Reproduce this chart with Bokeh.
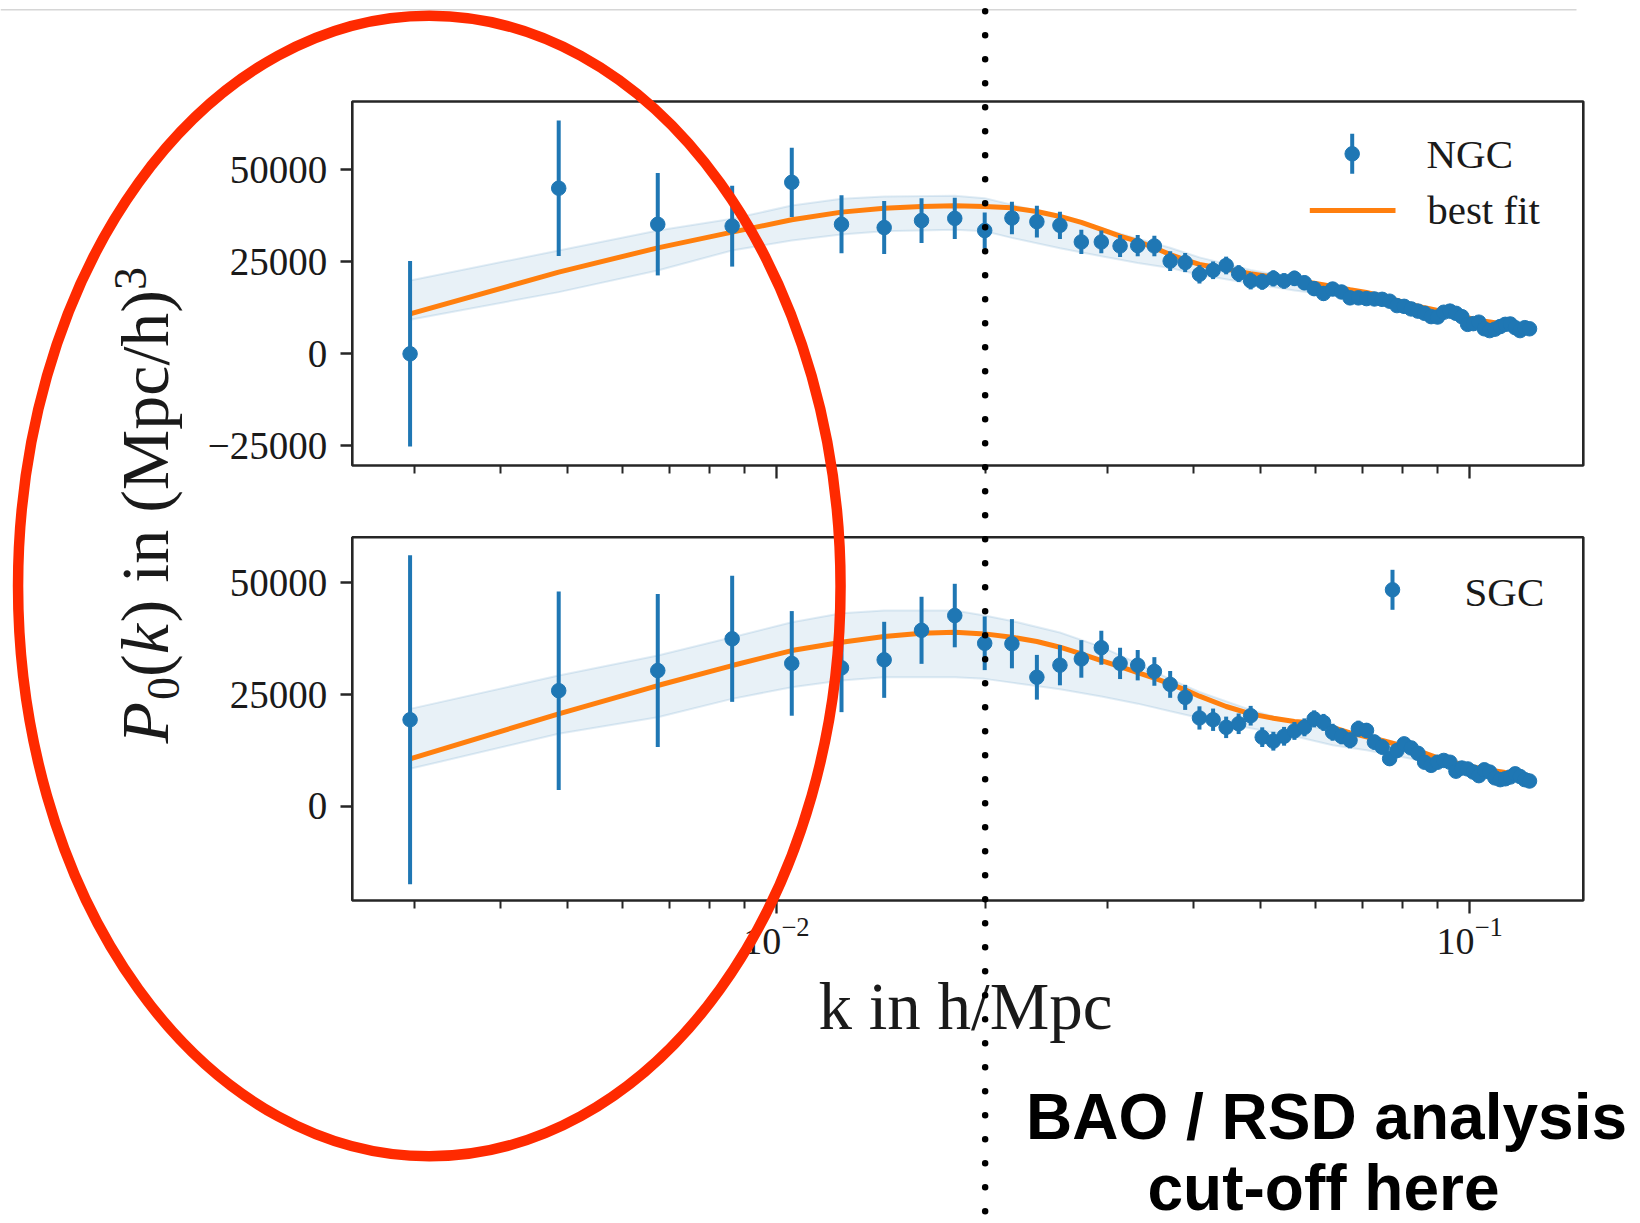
import numpy as np
from bokeh.plotting import figure
from bokeh.models import (Range1d, LogScale, LinearAxis, LogAxis, FixedTicker, Label,
                          CustomJSTickFormatter)
from bokeh.embed import file_html
from bokeh.resources import INLINE

# ---------------- data ----------------
K = [0.00296, 0.00485, 0.00674, 0.00863, 0.01052, 0.01241, 0.01430, 0.01619, 0.01808, 0.01997,
     0.02186, 0.02375, 0.02564, 0.02753, 0.02942, 0.03131, 0.03320, 0.03509, 0.03698, 0.03887,
     0.04076, 0.04265, 0.04454, 0.04643, 0.04832, 0.05021, 0.05210, 0.05399, 0.05588, 0.05777,
     0.05966, 0.06155, 0.06344, 0.06533, 0.06722, 0.06911, 0.07100, 0.07289, 0.07478, 0.07667,
     0.07856, 0.08045, 0.08234, 0.08423, 0.08612, 0.08801, 0.08990, 0.09179, 0.09368, 0.09557,
     0.09746, 0.09935, 0.10124, 0.10313, 0.10502, 0.10691, 0.10880, 0.11069, 0.11258, 0.11447,
     0.11636, 0.11825, 0.12014, 0.12203]

NGC_P = [0, 45000, 35200, 34700, 46600, 35200, 34300, 36200, 36800, 33500,
         36900, 35900, 34900, 30400, 30400, 29300, 29400, 29300, 25200, 24800,
         21600, 22700, 24000, 21800, 19800, 19600, 20500, 19800, 20500, 19300,
         17700, 16400, 17600, 16800, 15200, 15200, 15000, 14900, 14800, 14300,
         13100, 12900, 12200, 11600, 11000, 10100, 10000, 11300, 11600, 11000,
         10100, 8000, 8200, 8600, 6800, 6300, 6700, 7400, 8000, 8100,
         7100, 6300, 7100, 6800]
NGC_ERR = [25200, 18400, 13900, 11000, 9400, 7900, 7200, 6100, 5600, 4900,
           4400, 4300, 3700, 3300, 3100, 3000, 2900, 2800, 2700, 2600,
           2500, 2400, 2400, 2300, 2300, 2200, 2200, 2100, 2100, 2000,
           2000, 2000, 1900, 1900, 1900, 1800, 1800, 1800, 1700, 1700,
           1700, 1600, 1600, 1600, 1600, 1500, 1500, 1500, 1500, 1400,
           1400, 1400, 1400, 1400, 1300, 1300, 1300, 1300, 1300, 1200,
           1200, 1200, 1200, 1200]

SGC_P = [19400, 25900, 30400, 37500, 32000, 31000, 32800, 39400, 42700, 36500,
         36400, 28900, 31600, 33000, 35500, 32000, 31600, 30200, 27300, 24400,
         19800, 19400, 17700, 18500, 20300, 15500, 14600, 15700, 16900, 17700,
         19600, 18800, 16600, 15700, 14800, 17400, 17000, 14400, 13300, 10700,
         12500, 14000, 13100, 11900, 9900, 9200, 9900, 10300, 9900, 7900,
         8600, 8400, 7700, 6900, 8200, 7700, 6400, 6000, 6200, 6600,
         7300, 6700, 6000, 5700]
SGC_ERR = [36800, 22200, 17100, 14100, 11700, 9900, 8500, 7500, 7100, 6000,
           5500, 5000, 4500, 4200, 3800, 3500, 3400, 3200, 3000, 2800,
           2600, 2500, 2400, 2300, 2200, 2200, 2100, 2100, 2000, 2000,
           1900, 1900, 1900, 1800, 1800, 1800, 1700, 1700, 1700, 1600,
           1600, 1600, 1500, 1500, 1500, 1500, 1400, 1400, 1400, 1400,
           1300, 1300, 1300, 1300, 1300, 1300, 1200, 1200, 1200, 1200,
           1200, 1200, 1200, 1200]

FIT_K = [0.00296, 0.00485, 0.00674, 0.00863, 0.01052, 0.01241, 0.01430, 0.01619, 0.01808, 0.01997,
         0.02186, 0.02375, 0.02564, 0.02753, 0.02942, 0.03131, 0.03320, 0.03509, 0.03698, 0.03887,
         0.04076, 0.04454, 0.04832, 0.05210, 0.05588, 0.05966, 0.06344, 0.06722, 0.07100, 0.07478,
         0.07856, 0.08234, 0.08612, 0.08990, 0.09368, 0.09746, 0.10124, 0.10502, 0.10880, 0.11258,
         0.11636, 0.12014, 0.12203]
NGC_FIT = [10870, 22190, 28800, 33060, 36410, 38500, 39580, 40040, 40220, 40000,
           39670, 38680, 37320, 35690, 33790, 31970, 30530, 28800, 26990, 25540,
           24280, 23010, 21740, 20830, 20020, 19200, 18300, 17390, 16670, 15670,
           14490, 13410, 12500, 11780, 11050, 10240, 9420, 8880, 8420, 7970,
           7520, 7160, 6970]
SGC_FIT = [10660, 20720, 27050, 31520, 34870, 36740, 38000, 38750, 38970, 38600,
           37860, 36890, 35620, 34130, 32640, 31300, 29960, 28690, 27420, 26080,
           24670, 22360, 20720, 19750, 19000, 18700, 17700, 16470, 15570, 14750,
           13860, 12890, 11920, 10880, 10060, 9390, 8870, 8350, 7970, 7600,
           7300, 7000, 6860]

BAND_K = [0.00296, 0.00485, 0.00674, 0.00863, 0.01052, 0.01241, 0.01430, 0.01808, 0.01997, 0.02186,
          0.02564, 0.02942, 0.03320, 0.03698, 0.04076, 0.04832, 0.05588, 0.06344, 0.07100, 0.07856,
          0.08990, 0.10124, 0.11258, 0.12203]
NGC_LO = [9250, 16760, 22650, 28080, 30800, 32430, 33330, 33700, 33300, 31500,
          28700, 26500, 24700, 23300, 21500, 19100, 17200, 15900, 14400, 12900,
          10600, 8600, 7300, 6300]
NGC_HI = [19900, 28080, 33510, 36680, 40310, 42120, 42750, 42940, 42300, 40500,
          37300, 34100, 31300, 28800, 26200, 22800, 20500, 18700, 16900, 14800,
          12100, 9800, 8300, 7200]
SGC_LO = [8420, 16250, 19970, 24070, 26680, 28170, 28910, 28910, 28540, 27700,
          26200, 24600, 23000, 21300, 19800, 17500, 15700, 13700, 12600, 11300,
          9500, 8100, 7000, 6300]
SGC_HI = [21830, 29290, 33760, 37860, 41210, 43220, 43820, 43820, 42700, 41500,
          38900, 35700, 32000, 28500, 25600, 21600, 18800, 16900, 16000, 14300,
          11300, 9300, 7900, 7200]

K_CUT = 0.02
XLIM = (0.002443, 0.1459)
TOP_YLIM = (-30350, 68560)
BOT_YLIM = (-21020, 60220)
Y_TICKS_TOP = [-25000, 0, 25000, 50000]
Y_TICKS_BOT = [0, 25000, 50000]
X_MAJOR = [0.01, 0.1]
X_MINOR = [0.003, 0.004, 0.005, 0.006, 0.007, 0.008, 0.009,
           0.02, 0.03, 0.04, 0.05, 0.06, 0.07, 0.08, 0.09]

# ---------------- layout (page pixels) ----------------
W, H = 1640, 1223
PL, PR = 351.8, 1582.8
TOP_T, TOP_B = 101.0, 465.0
BOT_T, BOT_B = 536.7, 900.0
BASE_FIX = 0.33          # Label baseline correction (fraction of font size)

BLUE = "#1f77b4"
ORANGE = "#ff7f0e"
FRAME = "#262626"
SERIF = "Liberation Serif"

lk0, lk1 = np.log10(XLIM[0]), np.log10(XLIM[1])
per_px = (lk1 - lk0) / (PR - PL)
k_range = Range1d(10 ** (lk0 - PL * per_px), 10 ** (lk1 + (W - PR) * per_px))


def page_range(ylim, t, b):
    per = (ylim[1] - ylim[0]) / (b - t)
    return Range1d(ylim[0] - (H - b) * per, ylim[1] + t * per)


p = figure(width=W, height=H, x_range=Range1d(0, W), y_range=Range1d(0, H),
           x_axis_location=None, y_axis_location=None, toolbar_location=None,
           output_backend="svg", min_border=0, outline_line_color=None,
           background_fill_color="white", border_fill_color="white", title=None)
p.grid.visible = False
p.extra_x_ranges = {"k": k_range}
p.extra_x_scales = {"k": LogScale()}
p.extra_y_ranges = {"top": page_range(TOP_YLIM, TOP_T, TOP_B),
                    "bot": page_range(BOT_YLIM, BOT_T, BOT_B)}


def panel(name, ylim, P, ERR, FIT, LO, HI, yticks, show_xlabels):
    kw = dict(x_range_name="k", y_range_name=name)
    p.varea(x=BAND_K, y1=LO, y2=HI, fill_color=BLUE, fill_alpha=0.1, **kw)
    p.line(BAND_K, LO, line_color=BLUE, line_alpha=0.13, line_width=2, **kw)
    p.line(BAND_K, HI, line_color=BLUE, line_alpha=0.13, line_width=2, **kw)
    p.line(FIT_K, FIT, line_color=ORANGE, line_width=5, **kw)
    Pa, Ea = np.array(P, float), np.array(ERR, float)
    p.segment(x0=K, y0=Pa - Ea, x1=K, y1=Pa + Ea, line_color=BLUE, line_width=4, **kw)
    p.scatter(K, P, size=14.5, fill_color=BLUE, line_color=BLUE, **kw)
    p.quad(left=[XLIM[0]], right=[XLIM[1]], bottom=[ylim[0]], top=[ylim[1]],
           fill_color=None, line_color=FRAME, line_width=2.6, **kw)

    ya = LinearAxis(x_range_name="k", y_range_name=name, fixed_location=XLIM[0],
                    ticker=FixedTicker(ticks=yticks), axis_line_color=None,
                    major_tick_in=0, major_tick_out=12, minor_tick_in=0, minor_tick_out=0,
                    major_tick_line_width=2.5, major_tick_line_color=FRAME,
                    minor_tick_line_color=None, major_label_standoff=13,
                    major_label_text_font=SERIF, major_label_text_font_size="39px",
                    major_label_text_color="#1a1a1a",
                    major_label_overrides={t: (("\u2212" + str(-t)) if t < 0 else str(t)) for t in yticks})
    p.add_layout(ya, "left")

    xa = LogAxis(x_range_name="k", y_range_name=name, fixed_location=ylim[0],
                 ticker=FixedTicker(ticks=X_MAJOR, minor_ticks=X_MINOR), axis_line_color=None,
                 major_tick_in=0, major_tick_out=13, minor_tick_in=0, minor_tick_out=8,
                 major_tick_line_width=2.3, minor_tick_line_width=2,
                 major_tick_line_color=FRAME, minor_tick_line_color=FRAME,
                 major_label_standoff=4, major_label_text_font=SERIF,
                 major_label_text_font_size="38px", major_label_text_color="#1a1a1a")
    if not show_xlabels:
        xa.formatter = CustomJSTickFormatter(code="return ''")
    p.add_layout(xa, "below")


panel("top", TOP_YLIM, NGC_P, NGC_ERR, NGC_FIT, NGC_LO, NGC_HI, Y_TICKS_TOP, False)
panel("bot", BOT_YLIM, SGC_P, SGC_ERR, SGC_FIT, SGC_LO, SGC_HI, Y_TICKS_BOT, True)


def Y(py):
    return H - py


# ---------------- legends ----------------
def legend_errbar(x, y):
    p.segment(x0=[x], y0=[Y(y - 20)], x1=[x], y1=[Y(y + 20)], line_color=BLUE, line_width=4)
    p.scatter([x], [Y(y)], size=14.5, fill_color=BLUE, line_color=BLUE)


def text(x, y, s, size, **kw):
    """Horizontal text whose alphabetic baseline lies at page y."""
    opts = dict(text_font=SERIF, text_font_size=f"{size}px", text_color="#1a1a1a",
                text_baseline="alphabetic", text_align="left")
    opts.update(kw)
    p.add_layout(Label(x=x, y=Y(y - BASE_FIX * size), text=s, **opts))


legend_errbar(1351.7, 153.3)
text(1426, 166.7, "NGC", 41)
p.segment(x0=[1309.3], y0=[Y(210)], x1=[1395], y1=[Y(210)], line_color=ORANGE, line_width=5)
text(1426.7, 223.3, "best fit", 41)
legend_errbar(1392, 589.3)
text(1464, 605, "SGC", 41)

# ---------------- axis labels ----------------
text(965, 1028, "k in h/Mpc", 67, text_align="center")

y_cursor = 743.0
for s, size, style, off, em in [("P", 68, "italic", 0, 0.64), ("0", 46, "normal", 11, 0.5),
                                ("(", 68, "normal", 0, 0.333), ("k", 68, "italic", 0, 0.47),
                                (") in (Mpc/h)", 68, "normal", 0, 4.888), ("3", 46, "normal", -22, 0.5)]:
    p.add_layout(Label(x=167 + off - BASE_FIX * size, y=Y(y_cursor), text=s, angle=90,
                       angle_units="deg", text_font=SERIF, text_font_style=style,
                       text_font_size=f"{size}px", text_color="#1a1a1a",
                       text_baseline="alphabetic", text_align="left"))
    y_cursor -= em * size

# ---------------- overlays ----------------
p.segment(x0=[0], y0=[Y(9.3)], x1=[1576], y1=[Y(9.3)], line_color="#d6d6d6", line_width=1.5)
p.ellipse(x=[428.8], y=[Y(585.5)], width=[822.5], height=[1141], fill_color=None,
          line_color="#ff2a00", line_width=10.5, level="overlay")
p.segment(x0=[K_CUT], y0=[Y(10.7)], x1=[K_CUT], y1=[Y(1216)], x_range_name="k",
          line_color="black", line_width=6.5, line_dash="0 24", line_cap="round", level="overlay")

text(1326, 1138, "BAO / RSD analysis", 64, text_font="Liberation Sans",
     text_font_style="bold", text_color="black", text_align="center")
text(1323, 1209, "cut-off here", 64, text_font="Liberation Sans",
     text_font_style="bold", text_color="black", text_align="center")

open("out.html", "w").write(file_html(p, INLINE))
